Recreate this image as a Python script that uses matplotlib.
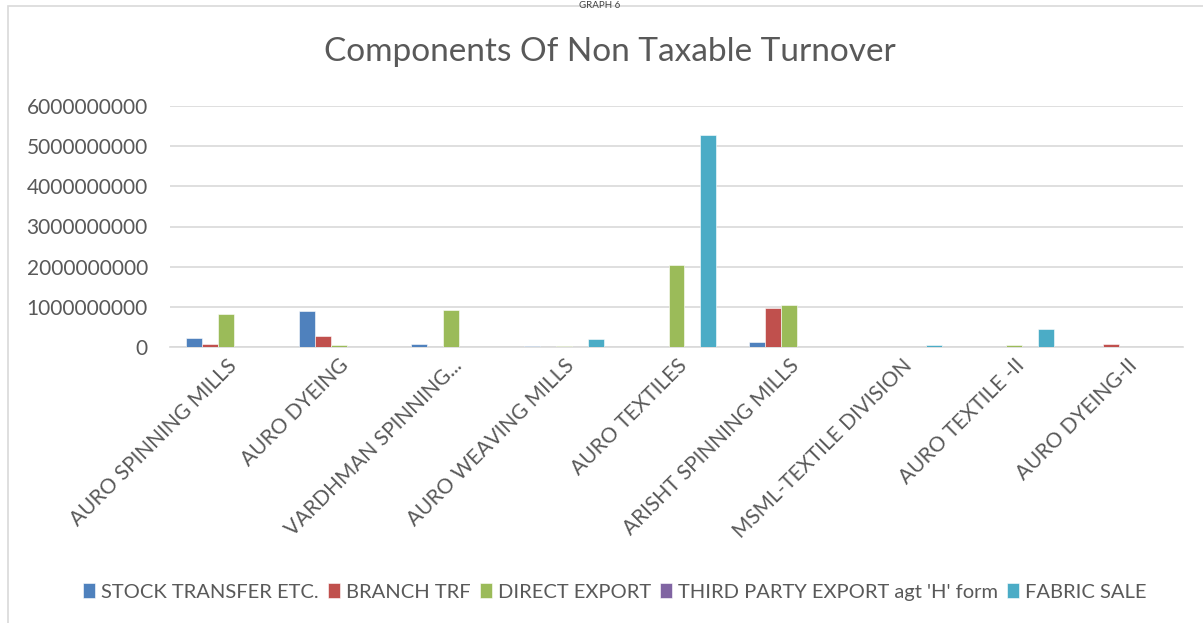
import matplotlib
matplotlib.use("Agg")
import matplotlib.pyplot as plt
import numpy as np
from matplotlib.patches import Rectangle

categories = ["AURO SPINNING MILLS", "AURO DYEING", "VARDHMAN SPINNING...",
              "AURO WEAVING MILLS", "AURO TEXTILES", "ARISHT SPINNING MILLS",
              "MSML-TEXTILE DIVISION", "AURO TEXTILE -II", "AURO DYEING-II"]
series_names = ["STOCK TRANSFER ETC.", "BRANCH TRF", "DIRECT EXPORT",
                "THIRD PARTY EXPORT agt 'H' form", "FABRIC SALE"]
stock_transfer = [2.3e8, 8.9e8, 7.0e7, 3.0e7, 0, 1.2e8, 0, 0, 0]
branch_trf     = [8.0e7, 2.8e8, 0, 0, 0, 9.8e8, 0, 0, 8.0e7]
direct_export  = [8.2e8, 5.0e7, 9.3e8, 2.0e7, 2.04e9, 1.05e9, 1.0e7, 4.0e7, 0]
third_party    = [0, 0, 0, 0, 0, 0, 0, 0, 0]
fabric_sale    = [0, 0, 0, 2.0e8, 5.28e9, 1.0e7, 4.0e7, 4.5e8, 0]
y_ticks = [0, 1000000000, 2000000000, 3000000000, 4000000000, 5000000000, 6000000000]

colors = ["#4F81BD", "#C0504D", "#9BBB59", "#8064A2", "#4BACC6"]
series = [stock_transfer, branch_trf, direct_export, third_party, fabric_sale]

plt.rcParams['font.family'] = ['Lato', 'DejaVu Sans']
W, H = 1203, 623
fig = plt.figure(figsize=(W/100, H/100), dpi=100)
ax = fig.add_axes([170/W, 1-347/H, (1183-170)/W, (347-106)/H])

n = len(categories)
x = np.arange(n)
bw = 0.142
for i, (vals, c, name) in enumerate(zip(series, colors, series_names)):
    ax.bar(x + (i-2)*bw, vals, width=bw, color=c, label=name,
           edgecolor='white', linewidth=0.4, zorder=3)

ax.set_xlim(-0.5, n-0.5)
ax.set_ylim(0, 6000000000)
ax.set_yticks(y_ticks)
ax.set_yticklabels([str(v) for v in y_ticks], fontsize=15, color='#595959')
ax.yaxis.grid(True, color='#D9D9D9', linewidth=1.2, zorder=0)
ax.tick_params(axis='y', length=0, pad=16)
ax.tick_params(axis='x', length=0, pad=6)
for s in ['top', 'right', 'left']:
    ax.spines[s].set_visible(False)
ax.spines['bottom'].set_color('#D9D9D9')
ax.spines['bottom'].set_linewidth(1.2)
ax.set_xticks(x)
ax.set_xticklabels(categories, rotation=45, ha='right', rotation_mode='anchor',
                   fontsize=15, color='#595959')

fig.text(610/W, 1-52/H, "Components Of Non Taxable Turnover", ha='center', va='center',
         fontsize=24, color='#595959')
fig.text(600/W, 1-1/H, "GRAPH 6", ha='center', va='top', fontsize=7, color='#404040')

# outer border
fig.patches.append(Rectangle((8/W, -0.1), 1.2, 1-6/H+0.1, transform=fig.transFigure,
                             fill=False, edgecolor='#D9D9D9', linewidth=1.2))

leg = fig.legend(loc='center', bbox_to_anchor=(615/W, 1-592/H), ncol=5, frameon=False,
                 fontsize=14.5, handlelength=0.6, handleheight=0.7, handletextpad=0.3,
                 columnspacing=0.45, labelcolor='#595959')

fig.savefig("out.png", dpi=100, facecolor='white')
